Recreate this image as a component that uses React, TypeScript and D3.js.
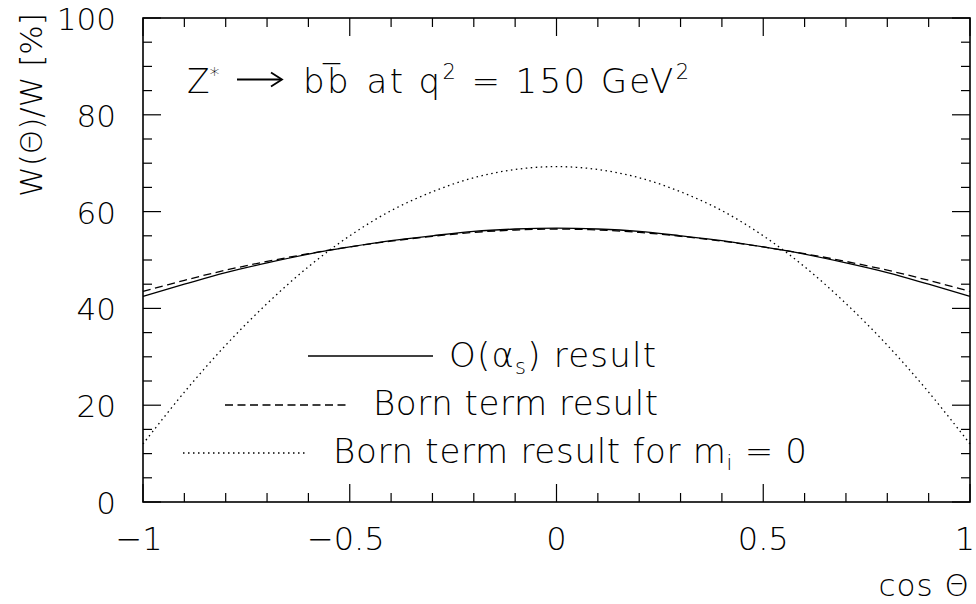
import React from 'react';
import * as d3 from 'd3';

// cos(theta) sample points and W(theta)/W [%]
const cosTheta = [-1, -0.9, -0.8, -0.7, -0.6, -0.5, -0.4, -0.3, -0.2, -0.1, 0, 0.1, 0.2, 0.3, 0.4, 0.5, 0.6, 0.7, 0.8, 0.9, 1];
const alphaSResult = [42.5, 45.0, 47.4, 49.4, 51.2, 52.7, 54.0, 55.0, 55.9, 56.4, 56.6, 56.4, 55.9, 55.0, 54.0, 52.7, 51.2, 49.4, 47.4, 45.0, 42.5];
const bornResult = [43.5, 45.8, 47.9, 49.7, 51.3, 52.7, 53.9, 54.9, 55.7, 56.2, 56.4, 56.2, 55.7, 54.9, 53.9, 52.7, 51.3, 49.7, 47.9, 45.8, 43.5];
const bornMassless = [12.0, 22.7, 32.4, 41.0, 48.6, 55.0, 60.2, 64.1, 67.0, 68.7, 69.3, 68.7, 67.0, 64.1, 60.2, 55.0, 48.6, 41.0, 32.4, 22.7, 12.0];

const xMajor = [-1, -0.5, 0, 0.5, 1];
const xMajorLabels = ['\u22121', '\u22120.5', '0', '0.5', '1'];
const yMajor = [0, 20, 40, 60, 80, 100];

const W = 976;
const H = 604;
const FONT = '"DejaVu Sans", sans-serif';

const x = d3.scaleLinear().domain([-1, 1]).range([143, 970]);
const y = d3.scaleLinear().domain([0, 100]).range([502, 18]);

const line = d3.line<number>()
  .x((_d, i) => x(cosTheta[i]))
  .y(d => y(d))
  .curve(d3.curveCatmullRom);

const xMinor = d3.range(-10, 11).map(i => i / 10).filter(v => !xMajor.some(m => Math.abs(m - v) < 1e-9));
const yMinor = d3.range(0, 101, 5).filter(v => v % 20 !== 0);

const App: React.FC = () => {
  const [x0, x1] = x.range();
  const [y0, y1] = y.range();
  const txt = { fontFamily: FONT, fontWeight: 300, fill: '#000' } as const;

  return (
    <svg width={W} height={H} style={{ position: 'absolute', left: 0, top: 0, background: '#fff' }}>
      {/* frame */}
      <rect x={x0} y={y1} width={x1 - x0} height={y0 - y1} fill="none" stroke="#000" strokeWidth={1.6} />

      {/* ticks on all four sides, pointing inward */}
      <g stroke="#000" strokeWidth={1.2}>
        {xMajor.map(v => (
          <g key={'xm' + v}>
            <line x1={x(v)} x2={x(v)} y1={y0} y2={y0 - 18} />
            <line x1={x(v)} x2={x(v)} y1={y1} y2={y1 + 18} />
          </g>
        ))}
        {xMinor.map(v => (
          <g key={'xn' + v}>
            <line x1={x(v)} x2={x(v)} y1={y0} y2={y0 - 9} />
            <line x1={x(v)} x2={x(v)} y1={y1} y2={y1 + 9} />
          </g>
        ))}
        {yMajor.map(v => (
          <g key={'ym' + v}>
            <line x1={x0} x2={x0 + 18} y1={y(v)} y2={y(v)} />
            <line x1={x1} x2={x1 - 18} y1={y(v)} y2={y(v)} />
          </g>
        ))}
        {yMinor.map(v => (
          <g key={'yn' + v}>
            <line x1={x0} x2={x0 + 9} y1={y(v)} y2={y(v)} />
            <line x1={x1} x2={x1 - 9} y1={y(v)} y2={y(v)} />
          </g>
        ))}
      </g>

      {/* tick labels */}
      {xMajor.map((v, i) => (
        <text key={'xl' + v} x={v === 1 ? 975 : x(v) - (v < 0 ? 4 : 0)} y={550}
          textAnchor={v === 1 ? 'end' : 'middle'} fontSize={32} {...txt}>
          {xMajorLabels[i]}
        </text>
      ))}
      {yMajor.map(v => (
        <text key={'yl' + v} x={116} y={y(v) + 12} textAnchor="end" fontSize={31} {...txt}>
          {v}
        </text>
      ))}

      {/* axis titles */}
      <text x={970} y={596} textAnchor="end" fontSize={31} letterSpacing={1} {...txt}>cos Θ</text>
      <text transform="translate(42,105) rotate(-90)" textAnchor="middle" fontSize={31} {...txt}>W(Θ)/W [%]</text>

      {/* process label */}
      <text x={187} y={93} fontSize={33} {...txt}>
        <tspan>Z</tspan>
        <tspan fontSize={20} dy={-12}>*</tspan>
      </text>
      <g stroke="#000" strokeWidth={1.8} fill="none">
        <path d="M237,79.5H281" />
        <path d="M271,72.5L282,79.5L271,86.5" />
      </g>
      <text x={303} y={93} fontSize={34} textLength={386} lengthAdjust="spacing" {...txt}>
        <tspan>bb{'\u0305'}</tspan>
        <tspan> at q</tspan>
        <tspan fontSize={21} dy={-14}>2</tspan>
        <tspan dy={14}> = 150 GeV</tspan>
        <tspan fontSize={21} dy={-14}>2</tspan>
      </text>

      {/* curves */}
      <path d={line(alphaSResult) ?? ''} fill="none" stroke="#000" strokeWidth={1.3} />
      <path d={line(bornResult) ?? ''} fill="none" stroke="#000" strokeWidth={1.3} strokeDasharray="8 4.5" />
      <path d={line(bornMassless) ?? ''} fill="none" stroke="#000" strokeWidth={1.3} strokeDasharray="1.5 3.5" />

      {/* legend */}
      <line x1={308} x2={433} y1={356} y2={356} stroke="#000" strokeWidth={1.3} />
      <text x={449} y={367} fontSize={34} textLength={207} lengthAdjust="spacing" {...txt}>
        <tspan>O(α</tspan>
        <tspan fontSize={21} dy={7}>s</tspan>
        <tspan dy={-7}>) result</tspan>
      </text>
      <line x1={225} x2={348} y1={405} y2={405} stroke="#000" strokeWidth={1.3} strokeDasharray="8 4.5" />
      <text x={373} y={415} fontSize={34} textLength={285} lengthAdjust="spacing" {...txt}>Born term result</text>
      <line x1={183} x2={307} y1={453} y2={453} stroke="#000" strokeWidth={1.3} strokeDasharray="1.5 3.5" />
      <text x={333} y={463} fontSize={34} textLength={474} lengthAdjust="spacing" {...txt}>
        <tspan>Born term result for m</tspan>
        <tspan fontSize={21} dy={7}>i</tspan>
        <tspan dy={-7}> = 0</tspan>
      </text>
    </svg>
  );
};

export default App;
